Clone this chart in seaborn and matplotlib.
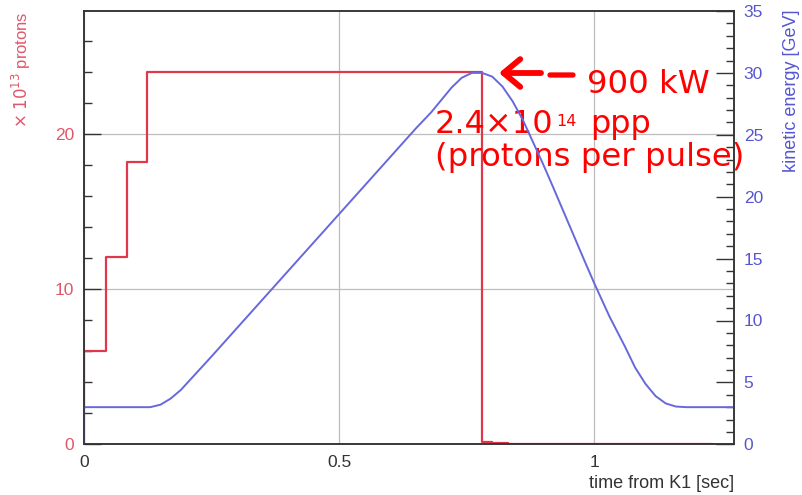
import numpy as np
import pandas as pd
import matplotlib
matplotlib.use("Agg")
import matplotlib.pyplot as plt
import seaborn as sns
from matplotlib.ticker import MultipleLocator

# Circulating intensity (x10^13 protons), held from each time until the next one
step_time = [0.0, 0.0, 0.043, 0.084, 0.123, 0.780, 0.800, 0.830, 1.230]
step_protons = [0.0, 6.0, 12.1, 18.2, 24.0, 0.15, 0.07, 0.0, 0.0]

# Kinetic energy (GeV) over the acceleration cycle
ramp_time = [0.0, 0.0, 0.13, 0.15, 0.17, 0.19, 0.21, 0.25, 0.30, 0.35, 0.40,
             0.45, 0.50, 0.55, 0.60, 0.65, 0.68, 0.70, 0.72, 0.74, 0.76,
             0.78, 0.80, 0.82, 0.84, 0.86, 0.88, 0.90, 0.92, 0.95, 0.98,
             1.00, 1.03, 1.06, 1.08, 1.10, 1.12, 1.14, 1.16, 1.18, 1.275]
ramp_energy = [0.0, 3.0, 3.0, 3.2, 3.7, 4.4, 5.3, 7.1, 9.4, 11.7, 14.0,
               16.3, 18.6, 20.9, 23.2, 25.5, 26.8, 27.8, 28.8, 29.6, 30.0,
               30.0, 29.7, 28.9, 27.7, 26.2, 24.4, 22.6, 20.7, 17.8, 14.9,
               13.0, 10.3, 7.9, 6.2, 4.9, 3.9, 3.3, 3.05, 3.0, 3.0]

x_ticks = [0, 0.5, 1]
x_tick_labels = ["0", "0.5", "1"]
left_ticks = [0, 10, 20]
right_ticks = [0, 5, 10, 15, 20, 25, 30, 35]

RED_LINE = "#e0384a"
RED_TICK = "#e2566a"
BLUE_LINE = "#6868dc"
BLUE_TICK = "#5656d0"
FRAME = "#333333"
ANNOT = "#ff0000"

sns.set_style("white")
plt.rcParams["font.family"] = ["Liberation Sans", "DejaVu Sans"]

W, H = 802, 495
fig = plt.figure(figsize=(W / 100, H / 100), dpi=100)
ax = fig.add_axes([84 / W, 1 - 444.3 / H, 650 / W, 433.3 / H])
ax2 = ax.twinx()

beam = pd.DataFrame({"t": step_time, "n": step_protons})
energy = pd.DataFrame({"t": ramp_time, "e": ramp_energy})

sns.lineplot(data=beam, x="t", y="n", ax=ax, drawstyle="steps-post",
             estimator=None, sort=False, color=RED_LINE, linewidth=1.6)
sns.lineplot(data=energy, x="t", y="e", ax=ax2,
             estimator=None, sort=False, color=BLUE_LINE, linewidth=1.4)

ax.set_xlim(0, 650 / 510.3)
ax.set_ylim(0, 433.3 / 15.5)
ax2.set_ylim(0, 35)

# grid on the primary axes
ax.set_xticks(x_ticks)
ax.set_xticklabels(x_tick_labels)
ax.set_yticks(left_ticks)
ax.xaxis.set_minor_locator(MultipleLocator(0.1))
ax.yaxis.set_minor_locator(MultipleLocator(2))
ax.grid(True, which="major", color="#bdbdbd", linewidth=0.9)
ax.set_axisbelow(True)

ax.tick_params(axis="both", which="both", direction="in", top=False, right=False,
               colors=FRAME, labelsize=12.5)
ax.tick_params(axis="both", which="major", length=12, width=1)
ax.tick_params(axis="both", which="minor", length=6, width=1)
ax.tick_params(axis="x", pad=8, labelcolor="#333333")
ax.tick_params(axis="y", pad=7, labelcolor=RED_TICK)

ax2.set_yticks(right_ticks)
ax2.yaxis.set_minor_locator(MultipleLocator(1))
ax2.tick_params(axis="y", which="both", direction="in", colors=FRAME,
                labelcolor=BLUE_TICK, labelsize=12.5, pad=7)
ax2.tick_params(axis="y", which="major", length=13, width=1)
ax2.tick_params(axis="y", which="minor", length=6, width=1)

for a in (ax, ax2):
    for s in a.spines.values():
        s.set_color(FRAME)
        s.set_linewidth(1.1)
ax.set_ylabel("")
ax2.set_ylabel("")

ax.set_xlabel("time from K1 [sec]", loc="right", fontsize=13, color="#333333")
ax.xaxis.set_label_coords(1.0, -0.071)

# axis titles placed at the top end of each vertical axis
fig.text(21 / W, 1 - 11 / H, r"$\times$ $10^{13}$ protons", rotation=90,
         ha="center", va="top", fontsize=12, color=RED_TICK)
fig.text(792 / W, 1 - 10 / H, "kinetic energy [GeV]", rotation=90,
         ha="center", va="top", fontsize=13, color=BLUE_TICK)

# callout on the flat top
big = ["DejaVu Sans"]
px = "figure pixels"
ax.annotate("", xy=(499, H - 73), xytext=(541, H - 73), xycoords=px, textcoords=px,
            arrowprops=dict(arrowstyle="->,head_length=0.6,head_width=0.5",
                            lw=4.2, color=ANNOT, mutation_scale=20,
                            shrinkA=0, shrinkB=0))
ax.annotate("", xy=(550, H - 75), xytext=(573, H - 75), xycoords=px, textcoords=px,
            arrowprops=dict(arrowstyle="-", lw=3.8, color=ANNOT,
                            shrinkA=0, shrinkB=0))
ax.annotate("900 kW", xy=(587, H - 93), xycoords=px, va="baseline", ha="left",
            fontsize=23.3, color=ANNOT, family=big)
ax.annotate("2.4×10", xy=(435, H - 133), xycoords=px, va="baseline", ha="left",
            fontsize=23, color=ANNOT, family=big)
ax.annotate("14", xy=(556, H - 126), xycoords=px, va="baseline", ha="left",
            fontsize=11.5, color=ANNOT, family=big)
ax.annotate("ppp", xy=(590, H - 133), xycoords=px, va="baseline", ha="left",
            fontsize=23, color=ANNOT, family=big)
ax.annotate("(protons per pulse)", xy=(435, H - 166), xycoords=px, va="baseline",
            ha="left", fontsize=23.3, color=ANNOT, family=big)

fig.savefig("out.png", dpi=100)
